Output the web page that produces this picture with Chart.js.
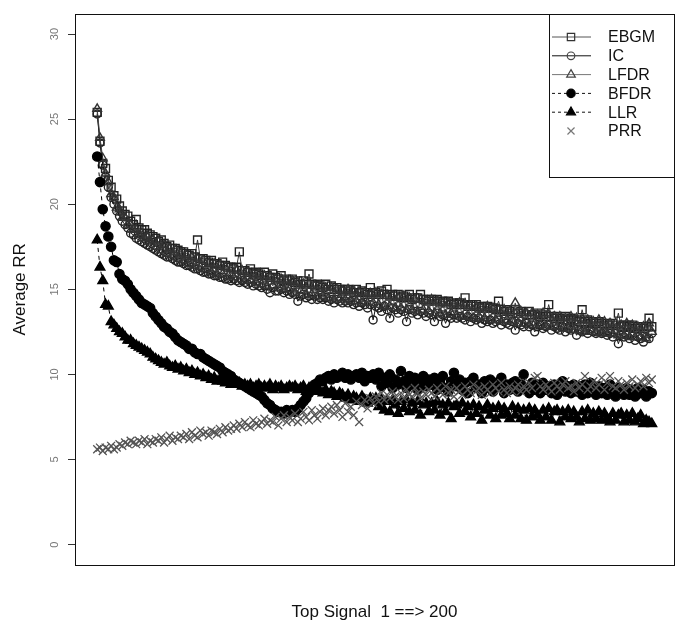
<!DOCTYPE html>
<html>
<head>
<meta charset="utf-8">
<script src="https://cdn.jsdelivr.net/npm/chart.js@4.4.1/dist/chart.umd.min.js"></script>
<style>
  html, body { margin: 0; padding: 0; background: #fff; }
  #wrap { width: 681px; height: 629px; }
</style>
</head>
<body>
<div id="wrap"><canvas id="rrChart" width="681" height="629"></canvas></div>
<script>
// Top signals 1..200 (x positions)
const signals = Array.from({ length: 200 }, (_, i) => i + 1);

const yTicks = [0, 5, 10, 15, 20, 25, 30];

const ebgm = [
  25.4, 23.7, 22.4, 22.1, 21.4, 21.0, 20.5, 20.3, 19.9, 19.6,
  19.4, 19.3, 19.0, 18.8, 19.1, 18.6, 18.5, 18.5, 18.3, 18.2,
  18.1, 18.0, 17.8, 17.9, 17.7, 17.5, 17.6, 17.4, 17.4, 17.3,
  17.2, 17.2, 17.1, 17.0, 17.1, 16.9, 17.9, 16.8, 16.8, 16.7,
  16.6, 16.7, 16.5, 16.5, 16.4, 16.6, 16.4, 16.3, 16.3, 16.2,
  16.3, 17.2, 16.1, 16.1, 16.0, 16.2, 15.9, 16.0, 15.9, 15.8,
  16.0, 15.8, 15.7, 15.9, 15.7, 15.6, 15.8, 15.5, 15.6, 15.5,
  15.6, 15.4, 15.5, 15.3, 15.5, 15.3, 15.9, 15.3, 15.2, 15.3,
  15.2, 15.1, 15.3, 15.0, 15.2, 15.0, 15.1, 15.0, 14.9, 15.0,
  15.0, 14.9, 14.8, 15.0, 14.8, 14.9, 14.8, 14.7, 15.1, 14.8,
  14.8, 14.7, 14.9, 14.7, 15.0, 14.6, 14.7, 14.6, 14.7, 14.5,
  14.6, 14.5, 14.7, 14.4, 14.5, 14.5, 14.7, 14.4, 14.4, 14.3,
  14.4, 14.3, 14.4, 14.2, 14.3, 14.2, 14.3, 14.1, 14.2, 14.1,
  14.2, 14.1, 14.5, 14.0, 14.1, 14.0, 14.1, 13.9, 14.0, 13.9,
  14.0, 13.9, 13.9, 13.8, 14.3, 13.8, 13.7, 13.8, 13.7, 13.6,
  13.8, 13.6, 13.7, 13.6, 13.5, 13.7, 13.5, 13.5, 13.6, 13.4,
  13.5, 13.4, 14.1, 13.4, 13.3, 13.4, 13.3, 13.2, 13.4, 13.2,
  13.3, 13.2, 13.2, 13.1, 13.8, 13.1, 13.2, 13.0, 13.1, 13.0,
  13.1, 13.0, 12.9, 13.0, 12.9, 13.0, 12.9, 13.6, 12.8, 12.9,
  12.9, 12.8, 12.9, 12.7, 12.8, 12.8, 12.7, 12.8, 13.3, 12.8
];

const ic = [
  25.3, 23.6, 22.3, 21.6, 21.0, 20.4, 20.0, 19.6, 19.3, 19.0,
  18.8, 18.6, 18.3, 18.2, 18.0, 17.9, 17.8, 17.7, 17.6, 17.5,
  17.4, 17.3, 17.2, 17.1, 17.0, 16.9, 16.9, 16.8, 16.7, 16.6,
  16.6, 16.5, 16.4, 16.4, 16.3, 16.2, 16.2, 16.1, 16.0, 16.0,
  15.9, 15.9, 15.8, 15.8, 15.7, 15.7, 15.6, 15.6, 15.5, 15.6,
  15.5, 15.4, 15.5, 15.4, 15.3, 15.4, 15.2, 15.3, 15.2, 15.1,
  15.2, 15.0, 14.8, 15.1, 14.9, 14.9, 15.0, 14.8, 14.9, 14.7,
  14.8, 14.7, 14.3, 14.6, 14.7, 14.5, 14.6, 14.4, 14.6, 14.4,
  14.5, 14.4, 14.5, 14.3, 14.4, 14.2, 14.4, 14.3, 14.2, 14.3,
  14.2, 14.3, 14.1, 14.2, 14.0, 14.2, 14.1, 13.9, 14.1, 13.2,
  14.0, 13.9, 13.7, 14.0, 13.8, 13.3, 13.9, 13.8, 13.6, 13.8,
  13.7, 13.1, 13.8, 13.6, 13.7, 13.5, 13.7, 13.6, 13.4, 13.6,
  13.5, 13.1, 13.6, 13.4, 13.5, 13.0, 13.4, 13.3, 13.5, 13.3,
  13.4, 13.3, 13.2, 13.4, 13.1, 13.3, 13.2, 13.3, 13.0, 13.2,
  13.1, 13.2, 13.0, 13.1, 13.2, 12.9, 13.1, 13.0, 12.9, 13.1,
  12.6, 13.0, 12.9, 12.8, 13.0, 12.8, 12.9, 12.5, 12.8, 12.9,
  12.7, 12.8, 12.9, 12.6, 12.8, 12.7, 12.6, 12.8, 12.5, 12.7,
  12.6, 12.7, 12.3, 12.6, 12.5, 12.6, 12.4, 12.6, 12.5, 12.4,
  12.5, 12.4, 12.5, 12.3, 12.4, 12.2, 12.4, 11.8, 12.3, 12.2,
  12.3, 12.1, 12.3, 12.0, 12.2, 12.1, 11.9, 12.2, 12.1, 12.4
];

const lfdr = [
  25.6, 23.9, 22.7, 21.8, 21.3, 20.6, 20.4, 19.8, 19.7, 19.2,
  19.2, 18.8, 18.8, 18.5, 18.5, 18.2, 18.3, 18.0, 18.1, 17.8,
  17.9, 17.5, 17.8, 17.3, 17.6, 17.1, 17.4, 17.0, 17.3, 16.8,
  17.1, 16.7, 17.0, 16.5, 16.9, 16.4, 16.8, 16.3, 16.7, 16.2,
  16.5, 16.0, 16.5, 15.9, 16.4, 15.9, 16.3, 15.8, 16.2, 15.7,
  16.1, 15.6, 16.1, 15.5, 16.0, 15.5, 15.9, 15.4, 15.9, 15.3,
  15.8, 15.2, 15.7, 15.2, 15.6, 15.1, 15.6, 15.0, 15.5, 15.0,
  15.5, 14.8, 15.4, 14.9, 15.3, 14.7, 15.3, 14.7, 15.2, 14.6,
  15.2, 14.6, 15.1, 14.5, 15.1, 14.4, 15.0, 14.5, 14.9, 14.4,
  15.0, 14.3, 14.9, 14.3, 14.8, 14.2, 14.8, 14.2, 14.7, 14.2,
  14.8, 14.1, 14.7, 14.0, 14.6, 14.0, 14.6, 13.9, 14.5, 13.9,
  14.6, 13.8, 14.5, 13.8, 14.4, 13.7, 14.4, 13.8, 14.3, 13.7,
  14.4, 13.6, 14.3, 13.6, 14.2, 13.5, 14.2, 13.6, 14.1, 13.5,
  14.2, 13.4, 14.1, 13.4, 14.0, 13.3, 14.0, 13.4, 13.9, 13.3,
  14.0, 13.2, 13.9, 13.2, 13.8, 13.1, 13.8, 13.2, 13.7, 13.1,
  14.2, 13.0, 13.7, 13.0, 13.6, 12.9, 13.6, 13.0, 13.5, 12.9,
  13.6, 12.8, 13.5, 12.8, 13.4, 12.8, 13.4, 12.7, 13.3, 12.7,
  13.4, 12.6, 13.3, 12.6, 13.2, 12.5, 13.2, 12.6, 13.1, 12.5,
  13.2, 12.4, 13.1, 12.4, 13.0, 12.4, 13.0, 12.3, 12.9, 12.3,
  13.0, 12.2, 12.9, 12.2, 12.8, 12.2, 12.8, 12.1, 13.0, 12.5
];

const bfdr = [
  22.8, 21.3, 19.7, 18.7, 18.1, 17.5, 16.7, 16.6, 15.9, 15.6,
  15.5, 15.3, 15.0, 14.8, 14.6, 14.4, 14.2, 14.1, 14.0, 13.9,
  13.6, 13.4, 13.2, 13.0, 12.8, 12.7, 12.5, 12.4, 12.2, 12.0,
  11.9, 11.8, 11.7, 11.5, 11.5, 11.3, 11.2, 11.2, 11.0, 10.9,
  10.8, 10.7, 10.6, 10.5, 10.4, 10.2, 10.1, 10.0, 9.9, 9.7,
  9.6, 9.5, 9.4, 9.3, 9.2, 9.1, 9.0, 8.9, 8.8, 8.7,
  8.5, 8.3, 8.2, 8.0, 7.9, 7.8, 7.8, 7.7, 7.9, 7.8,
  7.9, 7.8, 8.0, 8.2, 8.4, 8.6, 8.9, 9.1, 9.4, 9.5,
  9.7, 9.6, 9.8, 9.9, 9.7, 10.0, 9.8, 9.9, 10.1, 9.8,
  10.0, 9.7, 9.9, 10.0, 9.8, 10.1, 9.6, 9.9, 9.8, 10.0,
  9.7, 10.1, 9.3, 9.8, 9.5, 10.0, 9.2, 9.7, 9.4, 10.2,
  9.6, 9.2, 9.9, 9.4, 9.8, 9.1, 9.5, 9.9, 9.3, 9.7,
  9.4, 9.8, 9.1, 9.5, 9.9, 9.2, 9.0, 9.6, 10.1, 9.3,
  9.7, 9.1, 9.5, 8.9, 9.6, 9.8, 9.2, 9.4, 8.9, 9.6,
  9.2, 9.7, 9.0, 9.5, 9.3, 9.8, 8.9, 9.4, 9.1, 9.5,
  9.6, 9.0, 9.4, 10.0, 9.2, 8.9, 9.5, 9.1, 9.4, 8.9,
  9.5, 9.1, 9.3, 8.9, 9.4, 8.8, 9.3, 9.6, 9.0, 9.3,
  8.9, 9.4, 9.0, 9.3, 8.8, 9.4, 8.9, 9.5, 9.1, 8.8,
  9.3, 8.9, 9.2, 8.8, 9.4, 9.0, 8.7, 9.2, 9.0, 8.8,
  9.2, 8.8, 9.1, 8.7, 9.2, 8.9, 9.1, 8.7, 9.0, 8.9
];

const llr = [
  17.9, 16.3, 15.5, 14.1, 14.0, 13.1, 12.9, 12.7, 12.5, 12.4,
  12.2, 12.0, 12.0, 11.8, 11.7, 11.6, 11.5, 11.4, 11.3, 11.2,
  11.0, 10.9, 10.8, 10.7, 10.6, 10.7, 10.5, 10.4, 10.5, 10.3,
  10.4, 10.2, 10.3, 10.1, 10.2, 10.0, 10.1, 9.9, 10.0, 9.8,
  9.9, 9.7, 9.8, 9.6, 9.7, 9.6, 9.5, 9.6, 9.4, 9.5,
  9.4, 9.5, 9.3, 9.4, 9.3, 9.4, 9.2, 9.3, 9.4, 9.2,
  9.3, 9.2, 9.4, 9.1, 9.3, 9.2, 9.3, 9.1, 9.2, 9.3,
  9.2, 9.3, 9.1, 9.2, 9.3, 9.0, 9.2, 9.1, 9.0, 9.2,
  9.0, 8.9, 9.1, 8.8, 9.0, 8.9, 8.7, 8.9, 8.8, 8.6,
  8.8, 8.5, 8.7, 8.6, 8.4, 8.7, 8.5, 8.3, 8.6, 8.4,
  8.6, 8.1, 8.5, 7.9, 8.4, 7.8, 8.5, 8.2, 7.7, 8.4,
  8.0, 8.5, 7.8, 8.3, 7.9, 8.4, 7.6, 8.2, 8.3, 7.8,
  8.3, 7.9, 8.4, 7.6, 8.2, 7.8, 8.3, 7.4, 8.1, 8.2,
  7.7, 8.3, 7.8, 8.1, 7.5, 8.2, 7.7, 8.1, 7.3, 7.9,
  8.2, 7.6, 8.0, 7.4, 8.1, 7.6, 8.0, 7.7, 7.4, 8.1,
  7.6, 8.0, 7.4, 7.9, 7.3, 8.0, 7.5, 7.9, 7.6, 7.3,
  7.9, 7.5, 8.0, 7.3, 7.8, 7.9, 7.2, 7.8, 7.5, 7.9,
  7.4, 7.8, 7.5, 7.2, 7.8, 7.4, 7.9, 7.3, 7.7, 7.4,
  7.8, 7.3, 7.7, 7.4, 7.2, 7.7, 7.3, 7.6, 7.7, 7.2,
  7.6, 7.3, 7.7, 7.2, 7.4, 7.6, 7.1, 7.3, 7.2, 7.1
];

const prr = [
  5.6, 5.7, 5.5, 5.7, 5.6, 5.8, 5.6, 5.7, 5.9, 5.8,
  6.0, 5.9, 6.1, 6.0, 5.9, 6.1, 6.0, 6.2, 5.9, 6.1,
  6.0, 6.2, 6.1, 6.3, 6.0, 6.2, 6.4, 6.1, 6.3, 6.2,
  6.4, 6.3, 6.5, 6.2, 6.6, 6.4, 6.3, 6.7, 6.5, 6.6,
  6.4, 6.7, 6.6, 6.5, 6.8, 6.6, 6.9, 6.7, 6.8, 7.0,
  6.8, 7.1, 6.9, 7.2, 7.0, 6.9, 7.3, 7.1, 7.0, 7.2,
  7.4, 7.1, 7.3, 7.2, 7.5, 7.0, 7.4, 7.6, 7.2, 7.5,
  7.3, 7.7, 7.2, 7.4, 7.8, 7.5, 7.3, 7.9, 7.6, 7.4,
  7.8, 8.0, 7.6, 7.9, 8.1, 7.7, 8.2, 7.9, 7.5, 8.3,
  7.8, 8.1, 7.6, 8.4, 7.2, 8.2, 8.5, 8.0, 8.6, 8.3,
  8.7, 8.4, 8.9, 8.5, 8.8, 8.6, 9.0, 8.7, 8.5, 8.9,
  8.6, 9.1, 8.8, 8.7, 9.2, 8.9, 8.6, 9.0, 8.8, 9.1,
  8.9, 8.7, 9.2, 9.0, 8.8, 9.3, 8.9, 9.1, 8.7, 9.2,
  9.0, 8.8, 9.3, 9.1, 8.9, 9.4, 9.0, 9.2, 8.8, 9.3,
  9.1, 8.9, 9.4, 9.2, 9.0, 9.5, 9.1, 8.9, 9.3, 9.0,
  9.2, 9.4, 9.0, 9.3, 9.1, 9.5, 9.2, 9.8, 9.9, 9.3,
  9.1, 9.4, 9.2, 9.0, 9.5, 9.3, 9.1, 9.4, 9.6, 9.2,
  9.3, 9.0, 9.5, 9.2, 9.4, 9.9, 9.1, 9.3, 9.6, 9.2,
  9.4, 9.8, 9.1, 9.5, 9.9, 9.3, 9.2, 9.6, 9.4, 9.1,
  9.5, 9.3, 9.7, 9.2, 9.4, 9.6, 9.3, 9.8, 9.5, 9.7
];

const FONT = 'Arial, "Liberation Sans", Helvetica, sans-serif';
const CLEAR = 'rgba(0,0,0,0)';

function series(label, values, style) {
    return Object.assign({
        label: label,
        data: values.map((v, i) => ({ x: signals[i], y: v })),
        tension: 0,
        borderWidth: 1,
        pointBorderWidth: 1.4,
        pointHoverRadius: 0
    }, style);
}

const datasets = [
    series('EBGM', ebgm, { order: 5, borderColor: '#333', pointBorderColor: '#222', pointBackgroundColor: CLEAR, pointStyle: 'rect', pointRadius: 5.6 }),
    series('IC', ic, { order: 4, borderColor: '#111', pointBorderColor: '#222', pointBackgroundColor: CLEAR, pointStyle: 'circle', pointRadius: 4 }),
    series('LFDR', lfdr, { order: 3, borderColor: '#444', pointBorderColor: '#333', pointBackgroundColor: CLEAR, pointStyle: 'triangle', pointRadius: 5 }),
    series('BFDR', bfdr, { order: 2, borderColor: '#000', borderDash: [4, 4], pointBorderColor: '#000', pointBackgroundColor: '#000', pointStyle: 'circle', pointRadius: 4.6 }),
    series('LLR', llr, { order: 1, borderColor: '#000', borderDash: [4, 4], pointBorderColor: '#000', pointBackgroundColor: '#000', pointStyle: 'triangle', pointRadius: 5.6 }),
    series('PRR', prr, { order: 0, showLine: false, borderColor: '#555', pointBorderColor: '#555', pointBorderWidth: 1.3, pointBackgroundColor: CLEAR, pointStyle: 'crossRot', pointRadius: 5.6 })
];

// Legend styles (line + symbol like base R)
const legendItems = [
    { text: 'EBGM', line: '#555', dash: [], mark: '#333', fill: CLEAR, style: 'rect', r: 5.2 },
    { text: 'IC', line: '#111', dash: [], mark: '#444', fill: CLEAR, style: 'circle', r: 3.8 },
    { text: 'LFDR', line: '#777', dash: [], mark: '#444', fill: CLEAR, style: 'triangle', r: 5 },
    { text: 'BFDR', line: '#111', dash: [3, 3], mark: '#000', fill: '#000', style: 'circle', r: 4.2 },
    { text: 'LLR', line: '#111', dash: [3, 3], mark: '#000', fill: '#000', style: 'triangle', r: 5.2 },
    { text: 'PRR', line: null, dash: [], mark: '#777', fill: CLEAR, style: 'crossRot', r: 5 }
];

const boxAndLegend = {
    id: 'boxAndLegend',
    afterDraw(chart) {
        const ctx = chart.ctx;
        const a = chart.chartArea;
        ctx.save();
        // plot frame
        ctx.strokeStyle = '#111';
        ctx.lineWidth = 1;
        ctx.strokeRect(Math.round(a.left) + 0.5, Math.round(a.top) + 0.5,
            Math.round(a.right - a.left), Math.round(a.bottom - a.top));

        // legend box in the top right corner
        const lx = Math.round(a.right) - 125;
        const ly = Math.round(a.top);
        ctx.fillStyle = '#fff';
        ctx.fillRect(lx, ly, 125, 163);
        ctx.strokeRect(lx + 0.5, ly + 0.5, 125, 163);

        legendItems.forEach((it, k) => {
            const y = ly + 23 + k * 18.8;
            if (it.line) {
                ctx.beginPath();
                ctx.setLineDash(it.dash);
                ctx.strokeStyle = it.line;
                ctx.lineWidth = 1;
                ctx.moveTo(lx + 3, y);
                ctx.lineTo(lx + 42, y);
                ctx.stroke();
                ctx.setLineDash([]);
            }
            ctx.strokeStyle = it.mark;
            ctx.fillStyle = it.fill;
            ctx.lineWidth = 1.2;
            Chart.helpers.drawPoint(ctx, { pointStyle: it.style, radius: it.r, rotation: 0, borderWidth: 1.2 }, lx + 22, y);
            ctx.fillStyle = '#111';
            ctx.font = '16px ' + FONT;
            ctx.textBaseline = 'middle';
            ctx.textAlign = 'left';
            ctx.fillText(it.text, lx + 59, y + 1);
        });
        ctx.restore();
    }
};

new Chart(document.getElementById('rrChart').getContext('2d'), {
    type: 'line',
    data: { datasets },
    options: {
        responsive: false,
        animation: false,
        events: [],
        layout: { padding: { top: 10, right: 3, left: 0, bottom: 0 } },
        plugins: {
            legend: { display: false },
            tooltip: { enabled: false }
        },
        scales: {
            x: {
                type: 'linear',
                min: -6.96,
                max: 207.96,
                grid: { display: false },
                border: { display: false },
                ticks: { display: false },
                title: {
                    display: true,
                    text: 'Top Signal  1 ==> 200',
                    color: '#111',
                    font: { family: FONT, size: 17 },
                    padding: { top: 0, bottom: 6 }
                },
                afterFit(scale) { scale.height = 64; }
            },
            y: {
                min: -1.2,
                max: 31.2,
                afterBuildTicks(scale) { scale.ticks = yTicks.map(v => ({ value: v })); },
                grid: { drawOnChartArea: false, drawTicks: true, tickLength: 7, color: '#333' },
                border: { display: false },
                ticks: {
                    includeBounds: false,
                    minRotation: 90,
                    maxRotation: 90,
                    crossAlign: 'center',
                    padding: 7,
                    color: '#777',
                    font: { family: FONT, size: 11 }
                },
                title: {
                    display: true,
                    text: 'Average RR',
                    color: '#111',
                    font: { family: FONT, size: 17 },
                    padding: { top: 10, bottom: 0 }
                },
                afterFit(scale) { scale.width = 75; }
            }
        }
    },
    plugins: [boxAndLegend]
});
</script>
</body>
</html>
